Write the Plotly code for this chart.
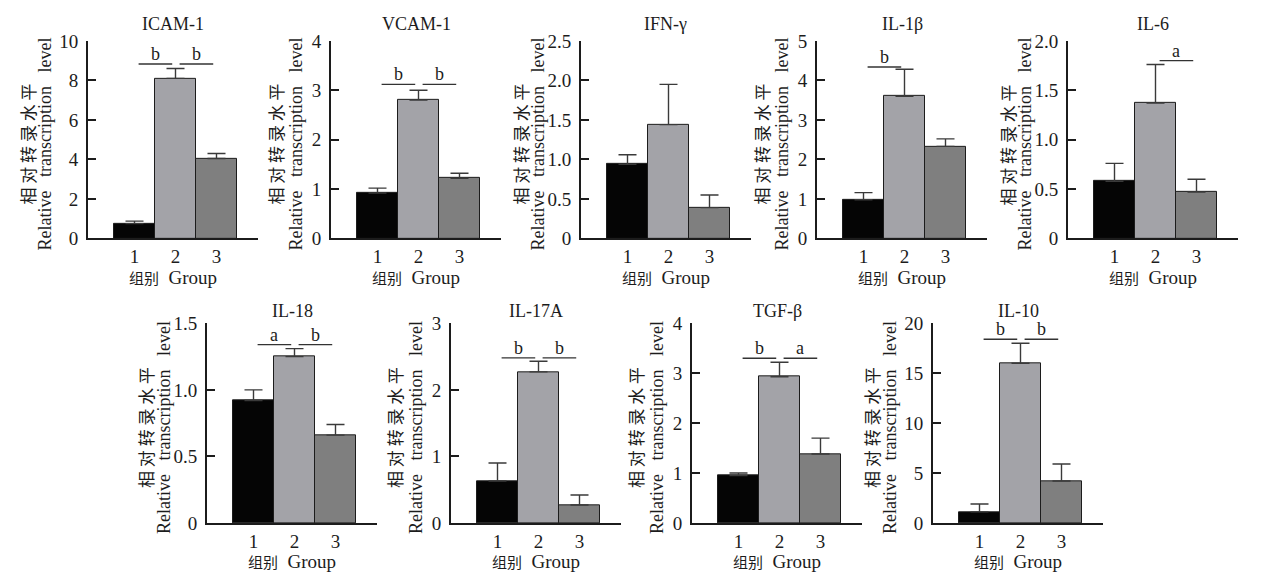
import plotly.graph_objects as go

# relative transcription level, groups 1-3 (mean and upper error)
groups = [1, 2, 3]
group_labels = ['1', '2', '3']

icam1_mean = [0.75, 8.1, 4.05]
icam1_err = [0.13, 0.5, 0.25]
vcam1_mean = [0.92, 2.8, 1.22]
vcam1_err = [0.10, 0.20, 0.10]
ifng_mean = [0.94, 1.44, 0.39]
ifng_err = [0.12, 0.51, 0.16]
il1b_mean = [0.98, 3.6, 2.33]
il1b_err = [0.18, 0.68, 0.19]
il6_mean = [0.58, 1.37, 0.47]
il6_err = [0.18, 0.39, 0.13]
il18_mean = [0.92, 1.25, 0.66]
il18_err = [0.08, 0.06, 0.08]
il17a_mean = [0.63, 2.27, 0.27]
il17a_err = [0.27, 0.16, 0.15]
tgfb_mean = [0.95, 2.93, 1.38]
tgfb_err = [0.05, 0.29, 0.32]
il10_mean = [1.1, 16.0, 4.2]
il10_err = [0.8, 2.0, 1.7]

# y ticks
icam1_ticks = [0, 2, 4, 6, 8, 10]
vcam1_ticks = [0, 1, 2, 3, 4]
ifng_ticks = [0, 0.5, 1.0, 1.5, 2.0, 2.5]
il1b_ticks = [0, 1, 2, 3, 4, 5]
il6_ticks = [0, 0.5, 1.0, 1.5, 2.0]
il18_ticks = [0, 0.5, 1.0, 1.5]
il17a_ticks = [0, 1, 2, 3]
tgfb_ticks = [0, 1, 2, 3, 4]
il10_ticks = [0, 5, 10, 15, 20]

# significance marks: (group a, group b, level, letter)
icam1_sig = [(1, 2, 8.83, 'b'), (2, 3, 8.83, 'b')]
vcam1_sig = [(1, 2, 3.12, 'b'), (2, 3, 3.12, 'b')]
ifng_sig = []
il1b_sig = [(1, 2, 4.34, 'b')]
il6_sig = [(2, 3, 1.80, 'a')]
il18_sig = [(1, 2, 1.34, 'a'), (2, 3, 1.34, 'b')]
il17a_sig = [(1, 2, 2.48, 'b'), (2, 3, 2.48, 'b')]
tgfb_sig = [(1, 2, 3.30, 'b'), (2, 3, 3.30, 'a')]
il10_sig = [(1, 2, 18.4, 'b'), (2, 3, 18.4, 'b')]

panels = [
    ('ICAM-1', icam1_mean, icam1_err, icam1_ticks, icam1_sig),
    ('VCAM-1', vcam1_mean, vcam1_err, vcam1_ticks, vcam1_sig),
    ('IFN-γ', ifng_mean, ifng_err, ifng_ticks, ifng_sig),
    ('IL-1β', il1b_mean, il1b_err, il1b_ticks, il1b_sig),
    ('IL-6', il6_mean, il6_err, il6_ticks, il6_sig),
    ('IL-18', il18_mean, il18_err, il18_ticks, il18_sig),
    ('IL-17A', il17a_mean, il17a_err, il17a_ticks, il17a_sig),
    ('TGF-β', tgfb_mean, tgfb_err, tgfb_ticks, tgfb_sig),
    ('IL-10', il10_mean, il10_err, il10_ticks, il10_sig),
]

W, H = 1268, 585
PANEL_W = 170
left_px = [88, 331, 581, 817, 1068, 207, 451, 692, 933]
top_px = [32] * 5 + [325] * 4
bottom_px = [237] * 5 + [532] * 4
title_px = [15] * 5 + [312] * 4

bar_colors = ['#050505', '#a3a3a8', '#7f7f7f']
ink = '#1c1c1c'
serif = 'Liberation Serif, Noto Sans CJK SC, serif'
cjk = 'Noto Sans CJK SC'
nb = '\u00a0'

fig = go.Figure()
layout = {}
annotations = []
shapes = []

for i, (name, mean, err, ticks, sig) in enumerate(panels):
    n = '' if i == 0 else str(i + 1)
    xref, yref = 'x' + n, 'y' + n
    left, top, bottom = left_px[i], top_px[i], bottom_px[i]
    decimal = any(not float(t).is_integer() for t in ticks)
    ticktext = ['0' if t == 0 else (f'{t:.1f}' if decimal else str(int(t))) for t in ticks]

    fig.add_trace(go.Bar(
        x=groups, y=mean, width=1,
        marker=dict(color=bar_colors, line=dict(color=ink, width=1)),
        error_y=dict(type='data', array=err, arrayminus=[0, 0, 0], symmetric=False,
                     color='#3a3a3a', thickness=1.4, width=9),
        xaxis=xref, yaxis=yref, showlegend=False, hoverinfo='skip',
    ))

    layout['xaxis' + n] = dict(
        domain=[left / W, (left + PANEL_W) / W], anchor=yref,
        range=[-0.134, 4.012], tickvals=groups, ticktext=group_labels,
        showline=True, linecolor=ink, linewidth=2, ticks='',
        showgrid=False, zeroline=False, ticklabelstandoff=0,
        tickfont=dict(family=serif, size=19, color=ink),
    )
    layout['yaxis' + n] = dict(
        domain=[1 - bottom / H, 1 - top / H], anchor=xref,
        range=[0, ticks[-1]], tickvals=ticks, ticktext=ticktext,
        showline=True, linecolor=ink, linewidth=2,
        ticks='inside', ticklen=8, tickwidth=2, tickcolor=ink,
        showgrid=False, zeroline=False, ticklabelstandoff=4,
        tickfont=dict(family=serif, size=19, color=ink),
    )

    # panel title
    annotations.append(dict(
        text=name, x=(left + PANEL_W / 2) / W, y=1 - title_px[i] / H,
        xref='paper', yref='paper', xanchor='center', yanchor='middle',
        showarrow=False, font=dict(family=serif, size=18, color=ink),
    ))
    # x title
    annotations.append(dict(
        text='<span style="font-family:Noto Sans CJK SC;font-size:15px">组别</span>'
             + nb * 2 + 'Group',
        x=(left + PANEL_W / 2) / W, y=1 - (bottom + 40) / H,
        xref='paper', yref='paper', xanchor='center', yanchor='middle',
        showarrow=False, font=dict(family=serif, size=19, color=ink),
    ))
    # y titles
    wide = len(ticktext[-1]) > 1
    off_cn, off_en = (61, 43) if wide else (56, 35)
    ymid = 1 - ((top + bottom) / 2 + 5) / H
    annotations.append(dict(
        text=nb.join('相对转录水平'), x=(left - off_cn) / W, y=ymid,
        xref='paper', yref='paper', xanchor='center', yanchor='middle', textangle=-90,
        showarrow=False, font=dict(family=cjk, size=17, color=ink),
    ))
    annotations.append(dict(
        text=('Relative' + nb * 3 + 'transcription' + nb * 3 + 'level'),
        x=(left - off_en) / W, y=ymid,
        xref='paper', yref='paper', xanchor='center', yanchor='middle', textangle=-90,
        showarrow=False, font=dict(family=serif, size=18, color=ink),
    ))

    # significance bars
    for a, b, level, letter in sig:
        shapes.append(dict(type='line', xref=xref, yref=yref,
                           x0=a + 0.1, x1=b - 0.08, y0=level, y1=level,
                           line=dict(color='#333333', width=1.4)))
        annotations.append(dict(
            text=letter, x=(a + b) / 2, y=level, xref=xref, yref=yref,
            xanchor='center', yanchor='bottom', showarrow=False, yshift=-2,
            font=dict(family=serif, size=18, color=ink),
        ))

fig.update_layout(
    **layout,
    annotations=annotations, shapes=shapes,
    width=W, height=H, margin=dict(l=0, r=0, t=0, b=0),
    paper_bgcolor='white', plot_bgcolor='white',
    bargap=0,
)

fig.write_html("out.html", config={'displayModeBar': False},
               post_script="document.body.style.margin='0';")
